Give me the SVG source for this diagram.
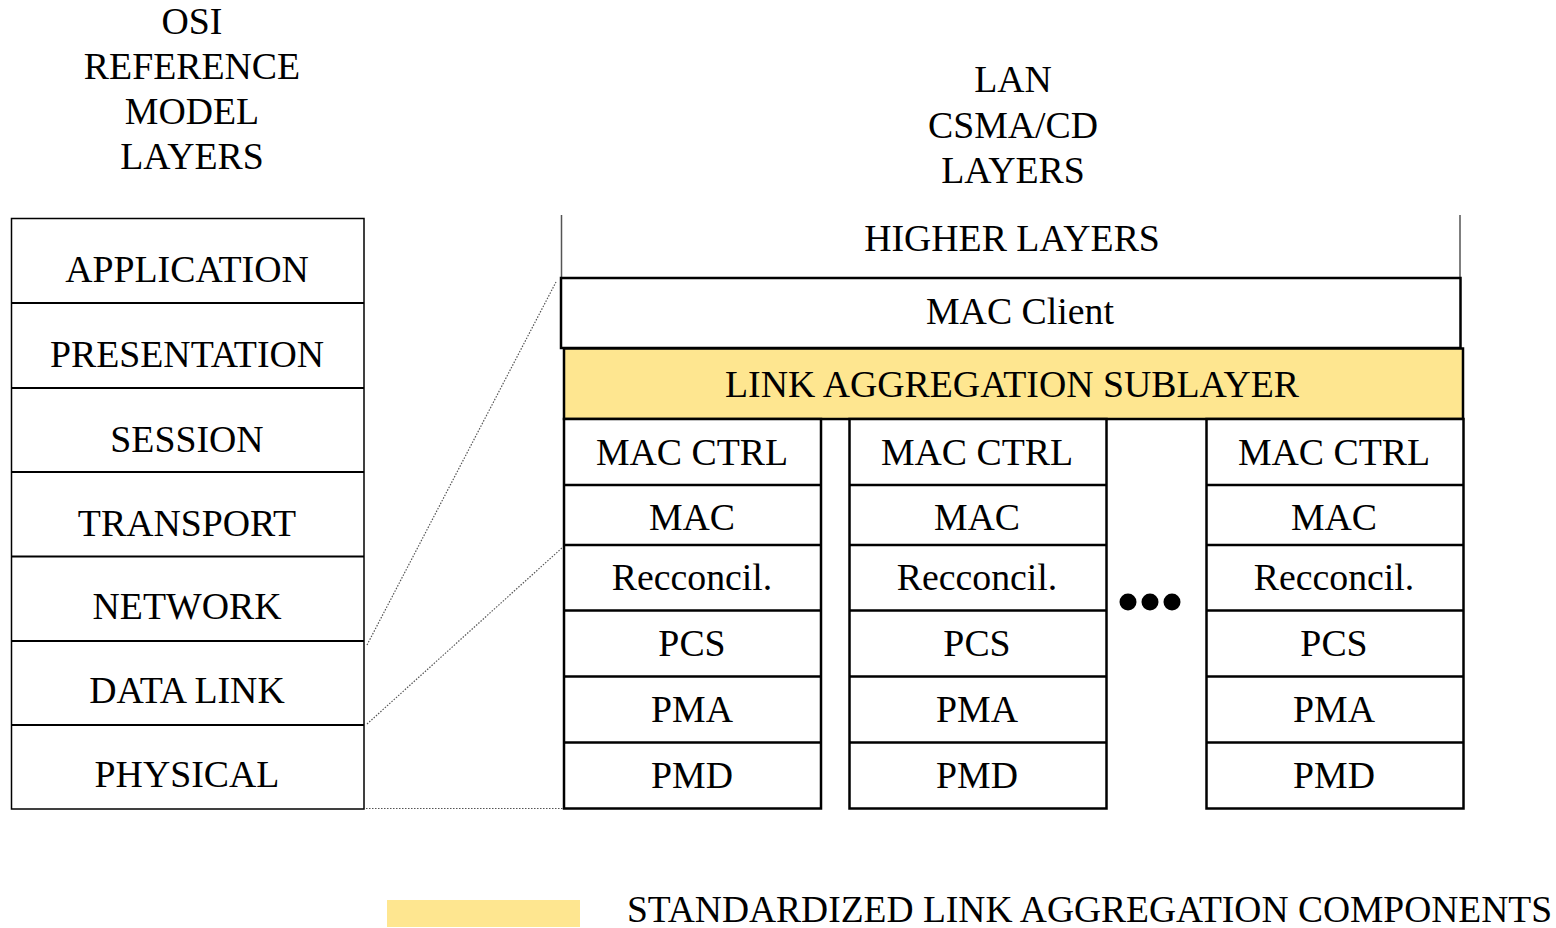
<svg xmlns="http://www.w3.org/2000/svg" width="1556" height="928" viewBox="0 0 1556 928">
<style>
text{font-family:"Liberation Serif","Times New Roman",serif;font-size:37.8px;fill:#000;text-anchor:middle}
.osi{fill:#fff;stroke:#000;stroke-width:1.5}
.sep{stroke:#000;stroke-width:2;fill:none}
.box{fill:#fff;stroke:#000;stroke-width:2.5}
.yel{fill:#FEE690;stroke:#000;stroke-width:2.5}
.dot{stroke:#555;stroke-width:1.2;stroke-dasharray:1.5 1.5;fill:none}
</style>
<rect width="1556" height="928" fill="#fff"/>
<g id="title-osi">
<text x="192" y="34">OSI</text>
<text x="192" y="79">REFERENCE</text>
<text x="192" y="124">MODEL</text>
<text x="192" y="169">LAYERS</text>
</g>
<g id="title-lan">
<text x="1013" y="92">LAN</text>
<text x="1013" y="138">CSMA/CD</text>
<text x="1013" y="183">LAYERS</text>
</g>
<g id="osi-stack">
<rect class="osi" x="11.5" y="218.5" width="352.5" height="590.5"/>
<path class="sep" d="M11.5 303H364M11.5 388H364M11.5 472H364M11.5 556.5H364M11.5 641H364M11.5 725H364"/>
<text x="187" y="282">APPLICATION</text>
<text x="187" y="367">PRESENTATION</text>
<text x="187" y="452">SESSION</text>
<text x="187" y="536">TRANSPORT</text>
<text x="187" y="619">NETWORK</text>
<text x="187" y="703">DATA LINK</text>
<text x="187" y="787">PHYSICAL</text>
</g>
<g id="connectors">
<path class="dot" d="M367 645L556 282"/>
<path class="dot" d="M367 724L563 547"/>
<path class="dot" d="M366 808.5H563"/>
</g>
<g id="higher-layers">
<path d="M561.5 215V277M1460 215V277" stroke="#555" stroke-width="1.5"/>
<text x="1012" y="251">HIGHER LAYERS</text>
</g>
<g id="mac-client">
<rect class="box" x="561" y="278" width="899.5" height="70"/>
<text x="1020" y="324">MAC Client</text>
</g>
<g id="link-aggregation">
<rect class="yel" x="564" y="348.5" width="899" height="70.5"/>
<text x="1012" y="397">LINK AGGREGATION SUBLAYER</text>
</g>
<g id="port-1">
<rect class="box" x="564" y="419" width="257" height="389.5"/>
<path class="box" d="M564 485H821M564 545H821M564 610.5H821M564 676.5H821M564 742.5H821"/>
<text x="692" y="465">MAC CTRL</text>
<text x="692" y="530">MAC</text>
<text x="692" y="590">Recconcil.</text>
<text x="692" y="656">PCS</text>
<text x="692" y="722">PMA</text>
<text x="692" y="788">PMD</text>
</g>
<g id="port-2">
<rect class="box" x="849.5" y="419" width="257" height="389.5"/>
<path class="box" d="M849.5 485H1106.5M849.5 545H1106.5M849.5 610.5H1106.5M849.5 676.5H1106.5M849.5 742.5H1106.5"/>
<text x="977" y="465">MAC CTRL</text>
<text x="977" y="530">MAC</text>
<text x="977" y="590">Recconcil.</text>
<text x="977" y="656">PCS</text>
<text x="977" y="722">PMA</text>
<text x="977" y="788">PMD</text>
</g>
<g id="ellipsis">
<circle cx="1128" cy="602" r="8.5"/>
<circle cx="1150" cy="602" r="8.5"/>
<circle cx="1172" cy="602" r="8.5"/>
</g>
<g id="port-n">
<rect class="box" x="1206.5" y="419" width="257" height="389.5"/>
<path class="box" d="M1206.5 485H1463.5M1206.5 545H1463.5M1206.5 610.5H1463.5M1206.5 676.5H1463.5M1206.5 742.5H1463.5"/>
<text x="1334" y="465">MAC CTRL</text>
<text x="1334" y="530">MAC</text>
<text x="1334" y="590">Recconcil.</text>
<text x="1334" y="656">PCS</text>
<text x="1334" y="722">PMA</text>
<text x="1334" y="788">PMD</text>
</g>
<g id="legend">
<rect x="387" y="900" width="193" height="27" fill="#FEE690"/>
<text x="627" y="922" style="text-anchor:start;font-size:37.5px">STANDARDIZED LINK AGGREGATION COMPONENTS</text>
</g>
</svg>
